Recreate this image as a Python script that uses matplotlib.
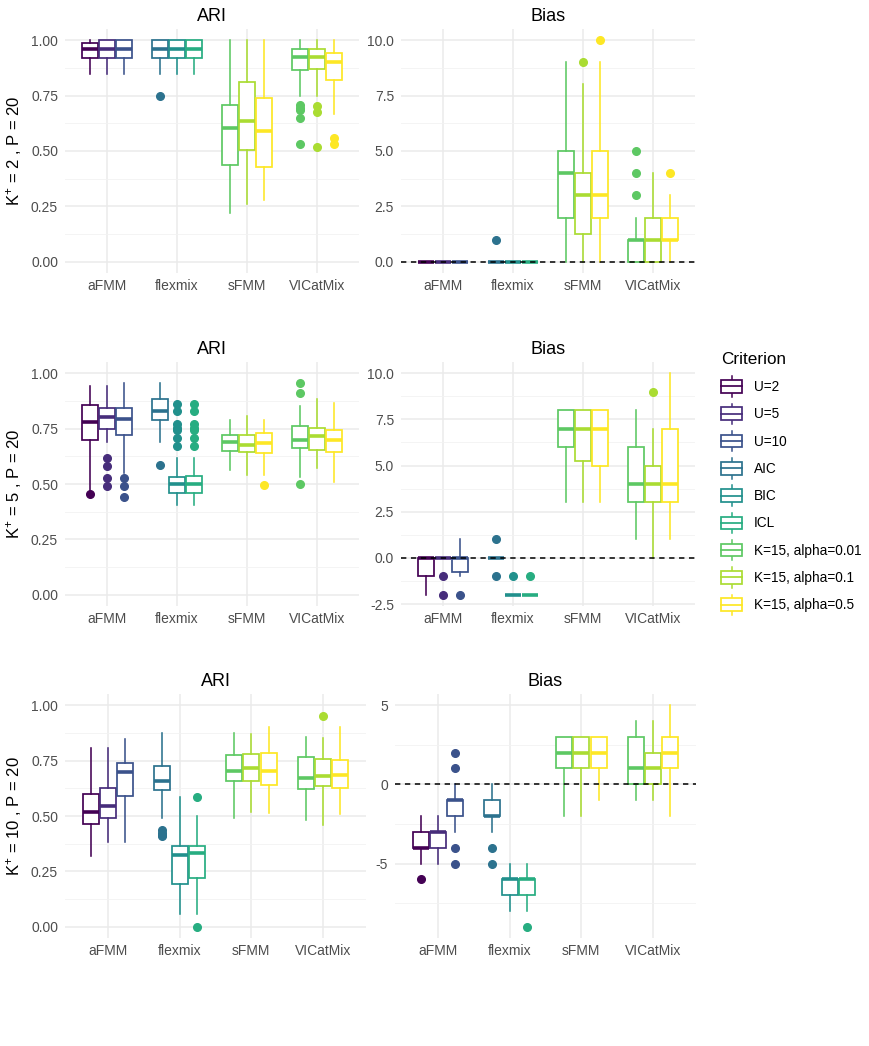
import numpy as np
import matplotlib
matplotlib.use('Agg')
from matplotlib import pyplot as plt
from matplotlib.patches import Patch, Rectangle
from matplotlib.lines import Line2D
from matplotlib.legend_handler import HandlerBase

plt.rcParams['font.family'] = ['Liberation Sans', 'DejaVu Sans']
plt.rcParams['mathtext.default'] = 'regular'

methods = ['aFMM', 'flexmix', 'sFMM', 'VICatMix']
criteria = ['U=2', 'U=5', 'U=10', 'AIC', 'BIC', 'ICL',
            'K=15, alpha=0.01', 'K=15, alpha=0.1', 'K=15, alpha=0.5']
colors = ['#440154', '#472D7B', '#3B528B', '#2C728E', '#21908C',
          '#27AD81', '#5DC863', '#AADC32', '#FDE725']
# criterion index of each of the 12 boxes (3 per method)
box_criterion = [0, 1, 2, 3, 4, 5, 6, 7, 8, 6, 7, 8]
row_labels = ['K$^{+}$ = 2 , P = 20', 'K$^{+}$ = 5 , P = 20', 'K$^{+}$ = 10 , P = 20']

# box stats: (whislo, q1, med, q3, whishi)
ari_k2 = [(0.846, 0.918, 0.958, 0.988, 1.0), (0.846, 0.918, 0.958, 1.0, 1.0),
          (0.846, 0.918, 0.958, 1.0, 1.0), (0.846, 0.918, 0.958, 1.0, 1.0),
          (0.846, 0.918, 0.958, 1.0, 1.0), (0.846, 0.918, 0.958, 1.0, 1.0),
          (0.222, 0.437, 0.603, 0.707, 1.0), (0.262, 0.504, 0.636, 0.813, 1.0),
          (0.277, 0.430, 0.591, 0.738, 1.0), (0.749, 0.864, 0.924, 0.958, 1.0),
          (0.749, 0.868, 0.924, 0.958, 1.0), (0.669, 0.819, 0.901, 0.940, 1.0)]
ari_k2_out = [[], [], [], [0.749], [], [], [], [], [],
              [0.708, 0.696, 0.684, 0.648, 0.531], [0.704, 0.674, 0.516], [0.557, 0.531]]

bias_k2 = [(0, 0, 0, 0, 0), (0, 0, 0, 0, 0), (0, 0, 0, 0, 0),
           (0, 0, 0, 0, 0), (0, 0, 0, 0, 0), (0, 0, 0, 0, 0),
           (0, 2, 4, 5, 9), (0, 1.25, 3, 4, 8), (0, 2, 3, 5, 9),
           (0, 0, 1, 1, 2), (0, 0, 1, 2, 4), (0, 1, 1, 2, 3)]
bias_k2_out = [[], [], [], [1], [], [], [], [9], [10], [3, 4, 5], [], [4]]

ari_k5 = [(0.465, 0.697, 0.780, 0.858, 0.940), (0.690, 0.750, 0.802, 0.844, 0.940),
          (0.550, 0.720, 0.795, 0.844, 0.955), (0.690, 0.790, 0.829, 0.885, 0.955),
          (0.405, 0.460, 0.502, 0.532, 0.618), (0.405, 0.460, 0.502, 0.535, 0.618),
          (0.562, 0.649, 0.690, 0.720, 0.787), (0.540, 0.645, 0.675, 0.720, 0.805),
          (0.540, 0.640, 0.685, 0.730, 0.787), (0.532, 0.664, 0.697, 0.760, 0.850),
          (0.574, 0.652, 0.715, 0.754, 0.885), (0.510, 0.645, 0.697, 0.745, 0.865)]
ari_k5_out = [[0.455], [0.617, 0.580, 0.527, 0.490], [0.527, 0.490, 0.440], [0.585],
              [0.859, 0.828, 0.769, 0.754, 0.742, 0.709, 0.672],
              [0.859, 0.828, 0.769, 0.754, 0.742, 0.709, 0.672],
              [], [], [0.495], [0.955, 0.910, 0.502], [], []]

bias_k5 = [(-2, -1, 0, 0, 0), (0, 0, 0, 0, 0), (-1, -0.75, 0, 0, 1),
           (0, 0, 0, 0, 0), (-2, -2, -2, -2, -2), (-2, -2, -2, -2, -2),
           (3, 6, 7, 8, 8), (3, 5.25, 7, 8, 8), (3, 5, 7, 8, 8),
           (1, 3, 4, 6, 8), (0, 3, 4, 5, 7), (1, 3, 4, 7, 10)]
bias_k5_out = [[], [-1, -2], [-2], [1, -1], [-1], [-1], [], [], [], [], [9], []]

ari_k10 = [(0.321, 0.463, 0.517, 0.600, 0.805), (0.382, 0.493, 0.547, 0.628, 0.808),
           (0.385, 0.588, 0.697, 0.741, 0.847), (0.493, 0.619, 0.660, 0.726, 0.876),
           (0.060, 0.193, 0.322, 0.363, 0.585), (0.060, 0.220, 0.333, 0.363, 0.502),
           (0.490, 0.658, 0.703, 0.775, 0.873), (0.516, 0.658, 0.718, 0.778, 0.868),
           (0.513, 0.640, 0.703, 0.783, 0.900), (0.483, 0.621, 0.673, 0.768, 0.858),
           (0.460, 0.636, 0.681, 0.757, 0.850), (0.508, 0.628, 0.685, 0.753, 0.900)]
ari_k10_out = [[], [], [], [0.438, 0.425, 0.415, 0.408], [], [0.585, 0.0],
               [], [], [], [], [0.950], []]

bias_k10 = [(-5, -4, -4, -3, -2), (-5, -4, -3, -3, -2), (-3, -2, -1, -1, 0),
            (-3, -2, -2, -1, 0), (-8, -7, -6, -6, -5), (-8, -7, -6, -6, -5),
            (-2, 1, 2, 3, 3), (-2, 1, 2, 3, 3), (-1, 1, 2, 3, 3),
            (-1, 0, 1, 3, 4), (-1, 0, 1, 2, 4), (-2, 1, 2, 3, 5)]
bias_k10_out = [[-6], [], [2, 1, -4, -5], [-4, -5], [], [-9], [], [], [], [], [], []]

ari_ticks = [0, 0.25, 0.5, 0.75, 1.0]
bias_ticks = [[0, 2.5, 5, 7.5, 10], [-2.5, 0, 2.5, 5, 7.5, 10], [-5, 0, 5]]

W, H = 870, 1046


def px_axes(fig, x0, y0, x1, y1):
    return fig.add_axes([x0 / W, 1 - y1 / H, (x1 - x0) / W, (y1 - y0) / H])


def draw_panel(ax, stats, outs, title, yticks, fmt, ylim=None, hline=False):
    for i, s in enumerate(stats):
        c = colors[box_criterion[i]]
        pos = i // 3 + (i % 3 - 1) * 0.243
        d = dict(whislo=s[0], q1=s[1], med=s[2], q3=s[3], whishi=s[4], fliers=outs[i])
        ax.bxp([d], positions=[pos], widths=0.225, patch_artist=True, showcaps=False,
               manage_ticks=False,
               boxprops=dict(facecolor='white', edgecolor=c, linewidth=1.25),
               medianprops=dict(color=c, linewidth=2.6, solid_capstyle='butt'),
               whiskerprops=dict(color=c, linewidth=1.15),
               flierprops=dict(marker='o', markerfacecolor=c, markeredgecolor=c,
                               markersize=5.5))
    if ylim is None:
        vals = [v for s in stats for v in s] + [v for o in outs for v in o]
        lo, hi = min(vals), max(vals)
        ylim = (lo - 0.05 * (hi - lo), hi + 0.05 * (hi - lo))
    ax.set_xlim(-0.6, 3.6)
    ax.set_xticks(range(len(methods)))
    ax.set_xticklabels(methods)
    ax.set_yticks(yticks)
    ax.set_yticklabels([fmt.format(t) for t in yticks])
    step = yticks[1] - yticks[0]
    minor = [yticks[0] - step / 2] + [t + step / 2 for t in yticks]
    ax.set_yticks(minor, minor=True)
    ax.set_ylim(ylim)
    ax.set_axisbelow(True)
    ax.grid(which='major', color='#EBEBEB', linewidth=1.1)
    ax.grid(which='minor', axis='y', color='#F2F2F2', linewidth=0.6)
    for sp in ax.spines.values():
        sp.set_visible(False)
    ax.tick_params(which='both', length=0, labelsize=10, labelcolor='#4D4D4D')
    ax.tick_params(axis='y', pad=5)
    ax.tick_params(axis='x', pad=4)
    ax.set_title(title, fontsize=13, pad=6)
    if hline:
        ax.axhline(0, color='black', linestyle=(0, (3.5, 3)), linewidth=1.1, zorder=5)


class BoxKey(HandlerBase):
    def create_artists(self, legend, orig_handle, xdescent, ydescent, width, height,
                       fontsize, trans):
        c = orig_handle.get_edgecolor()
        x0, y0 = -xdescent, -ydescent
        cx = x0 + width / 2
        wl = Line2D([cx, cx], [y0 - 0.15 * height, y0 + 1.15 * height], color=c,
                    linewidth=1.1, transform=trans)
        box = Rectangle((x0, y0 + 0.1 * height), width, 0.8 * height,
                        facecolor='white', edgecolor=c, linewidth=1.25, transform=trans)
        med = Line2D([x0, x0 + width], [y0 + height / 2] * 2, color=c, linewidth=1.25,
                     transform=trans)
        return [wl, box, med]


fig = plt.figure(figsize=(W / 100, H / 100), dpi=100)

ax = px_axes(fig, 65, 29, 359, 273)
draw_panel(ax, ari_k2, ari_k2_out, 'ARI', ari_ticks, '{:.2f}', ylim=(-0.05, 1.05))
ax.set_ylabel(row_labels[0], fontsize=12, labelpad=5)
ax = px_axes(fig, 401, 29, 695, 273)
draw_panel(ax, bias_k2, bias_k2_out, 'Bias', bias_ticks[0], '{:.1f}', hline=True)

ax = px_axes(fig, 65, 362, 359, 606)
draw_panel(ax, ari_k5, ari_k5_out, 'ARI', ari_ticks, '{:.2f}', ylim=(-0.05, 1.05))
ax.set_ylabel(row_labels[1], fontsize=12, labelpad=5)
ax = px_axes(fig, 401, 362, 695, 606)
draw_panel(ax, bias_k5, bias_k5_out, 'Bias', bias_ticks[1], '{:.1f}', hline=True)

ax = px_axes(fig, 65, 694, 366, 938)
draw_panel(ax, ari_k10, ari_k10_out, 'ARI', ari_ticks, '{:.2f}', ylim=(-0.05, 1.05))
ax.set_ylabel(row_labels[2], fontsize=12, labelpad=5)
ax = px_axes(fig, 395, 694, 696, 938)
draw_panel(ax, bias_k10, bias_k10_out, 'Bias', bias_ticks[2], '{:.0f}', hline=True)

handles = [Patch(facecolor='white', edgecolor=c) for c in colors]
leg = fig.legend(handles, criteria, title='Criterion', loc='upper left',
                 bbox_to_anchor=(721 / W, 1 - 352 / H), frameon=False,
                 handler_map={Patch: BoxKey()}, fontsize=9.8, title_fontsize=12.3,
                 handlelength=1.55, handleheight=1.4, labelspacing=0.85,
                 handletextpad=0.85, borderpad=0, borderaxespad=0)
leg._legend_box.align = 'left'

fig.savefig('out.png', dpi=100, facecolor='white')
